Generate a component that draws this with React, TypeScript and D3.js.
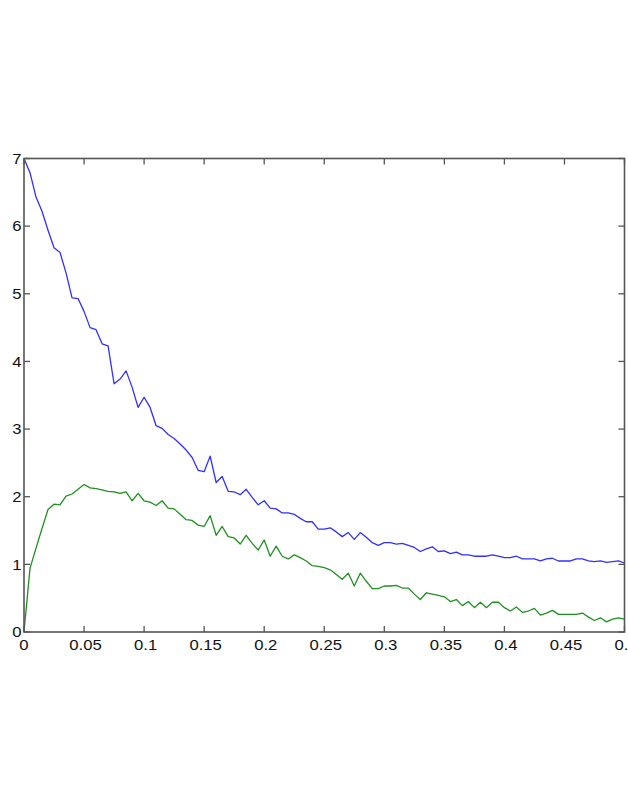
import React from "react";
import * as d3 from "d3";

const STEP = 0.005;
const blueValues = [
  7.0, 6.79, 6.43, 6.22, 5.94, 5.68, 5.61, 5.31, 4.94, 4.93,
  4.74, 4.5, 4.47, 4.26, 4.23, 3.67, 3.74, 3.86, 3.62, 3.32,
  3.47, 3.32, 3.05, 3.01, 2.92, 2.86, 2.78, 2.69, 2.58, 2.39,
  2.37, 2.6, 2.21, 2.3, 2.08, 2.07, 2.03, 2.11, 1.99, 1.88,
  1.94, 1.83, 1.82, 1.76, 1.76, 1.74, 1.68, 1.63, 1.63, 1.52,
  1.52, 1.54, 1.48, 1.41, 1.47, 1.37, 1.47, 1.4, 1.32, 1.28,
  1.32, 1.32, 1.3, 1.31, 1.28, 1.25, 1.19, 1.23, 1.26, 1.19,
  1.2, 1.16, 1.18, 1.14, 1.14, 1.12, 1.12, 1.12, 1.14, 1.12,
  1.1, 1.1, 1.12, 1.08, 1.08, 1.08, 1.05, 1.08, 1.09, 1.05,
  1.05, 1.05, 1.08, 1.08, 1.05, 1.04, 1.05, 1.03, 1.04, 1.05,
  1.02,
];
const greenValues = [
  0.0, 0.94, 1.24, 1.53, 1.81, 1.89, 1.88, 2.01, 2.04, 2.11,
  2.18, 2.13, 2.12, 2.1, 2.08, 2.07, 2.05, 2.07, 1.94, 2.05,
  1.94, 1.92, 1.87, 1.94, 1.83, 1.82, 1.74, 1.66, 1.65, 1.58,
  1.56, 1.72, 1.43, 1.56, 1.41, 1.39, 1.3, 1.43, 1.31, 1.21,
  1.36, 1.12, 1.27, 1.12, 1.08, 1.14, 1.1, 1.05, 0.98, 0.97,
  0.95, 0.92, 0.85, 0.78, 0.87, 0.68, 0.87, 0.75, 0.64, 0.64,
  0.68, 0.68, 0.69, 0.65, 0.65, 0.56, 0.48, 0.58, 0.56, 0.54,
  0.52, 0.45, 0.48, 0.39, 0.45, 0.36, 0.44, 0.36, 0.44, 0.44,
  0.36, 0.31, 0.37, 0.29, 0.31, 0.35, 0.25, 0.28, 0.32, 0.26,
  0.26, 0.26, 0.26, 0.28, 0.22, 0.17, 0.21, 0.15, 0.19, 0.21,
  0.19,
];
const xTicks = [0, 0.05, 0.1, 0.15, 0.2, 0.25, 0.3, 0.35, 0.4, 0.45, 0.5];
const xTickLabels = ["0", "0.05", "0.1", "0.15", "0.2", "0.25", "0.3", "0.35", "0.4", "0.45", "0.5"];
const yTicks = [0, 1, 2, 3, 4, 5, 6, 7];

const W = 628;
const H = 811;
const L = 24;
const R = 624.5;
const T = 158.5;
const B = 632;

export default function App() {
  const x = d3.scaleLinear().domain([0, 0.5]).range([L, R]);
  const y = d3.scaleLinear().domain([0, 7]).range([B, T]);
  const line = d3
    .line<number>()
    .x((_, i) => x(i * STEP))
    .y((d) => y(d));
  const tick = 6;
  const axisColor = "#555";
  const font = "'Liberation Sans', Arial, Helvetica, sans-serif";
  const fs = 14.5;
  const sx = 1.15;
  return (
    <svg
      width={W}
      height={H}
      style={{ position: "absolute", left: 0, top: 0, background: "#fff" }}
    >
      <rect x={0} y={0} width={W} height={H} fill="#fff" />
      <path d={line(blueValues) || ""} fill="none" stroke="#3030ff" strokeWidth={1.3} strokeLinejoin="round" />
      <path d={line(greenValues) || ""} fill="none" stroke="#209020" strokeWidth={1.3} strokeLinejoin="round" />
      <rect x={L} y={T} width={R - L} height={B - T} fill="none" stroke={axisColor} strokeWidth={1.6} />
      {xTicks.map((t, i) => (
        <g key={"x" + i}>
          <line x1={x(t)} x2={x(t)} y1={B} y2={B - tick} stroke={axisColor} strokeWidth={1.3} />
          <line x1={x(t)} x2={x(t)} y1={T} y2={T + tick} stroke={axisColor} strokeWidth={1.3} />
          <text
            transform={`translate(${x(t) + (i === 0 ? 0 : 1.5)},${B + 17.5}) scale(${sx},1)`}
            textAnchor="middle"
            fontFamily={font}
            fontSize={fs}
            fill="#111"
          >
            {xTickLabels[i]}
          </text>
        </g>
      ))}
      {yTicks.map((t, i) => (
        <g key={"y" + i}>
          <line x1={L} x2={L + tick} y1={y(t)} y2={y(t)} stroke={axisColor} strokeWidth={1.3} />
          <line x1={R} x2={R - tick} y1={y(t)} y2={y(t)} stroke={axisColor} strokeWidth={1.3} />
          <text
            transform={`translate(${L - 2.5},${y(t) + 5.2}) scale(${sx},1)`}
            textAnchor="end"
            fontFamily={font}
            fontSize={fs}
            fill="#111"
          >
            {t}
          </text>
        </g>
      ))}
    </svg>
  );
}
